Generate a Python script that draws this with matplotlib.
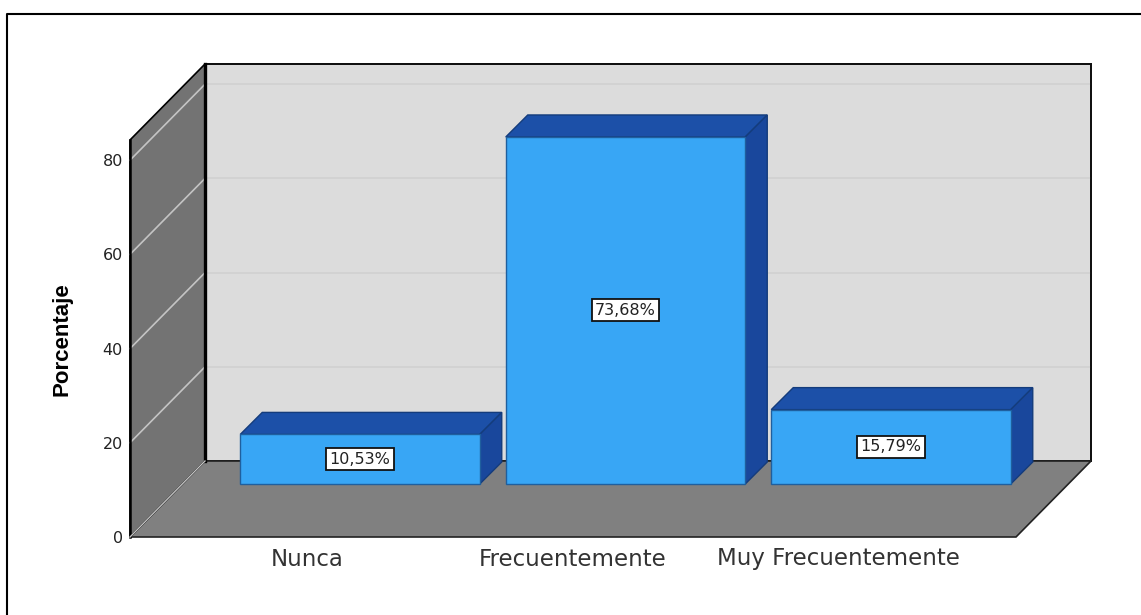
import matplotlib
matplotlib.use('Agg')
import matplotlib.pyplot as plt
from matplotlib.patches import Polygon

categories = ['Nunca', 'Frecuentemente', 'Muy Frecuentemente']
percent = [10.53, 73.68, 15.79]
bar_labels = ['10,53%', '73,68%', '15,79%']
y_ticks = [0, 20, 40, 60, 80]

W, H = 1141, 615
PX_X = 265.5   # pixels per category
PX_Y = 4.71    # pixels per percent
X0 = 360.0     # pixel of first category
Y0 = 537.0     # pixel of 0 percent


def dx(px):
    return px / PX_X


def dy(px):
    return px / PX_Y


fig = plt.figure(figsize=(W / 100, H / 100), dpi=100)
ax = fig.add_axes([0, 0, 1, 1])
ax.set_xlim(-X0 / PX_X, (W - X0) / PX_X)
ax.set_ylim(-(H - Y0) / PX_Y, Y0 / PX_Y)
ax.axis('off')

# chart box
left = dx(130 - X0)
right = dx(1016 - X0)
depth_x = dx(75)
depth_y = dy(76)
top = dy(397)

# outer frame, only left and top sides show
fx0, fx1 = dx(6.5 - X0), dx(W - X0)
fy0, fy1 = dy(Y0 - H), dy(Y0 - 13.5)
ax.plot([fx0, fx0, fx1], [fy0, fy1, fy1], color='black', lw=1.5, zorder=1)

# back wall
ax.add_patch(Polygon([(left + depth_x, depth_y), (right + depth_x, depth_y),
                      (right + depth_x, top + depth_y), (left + depth_x, top + depth_y)],
                     fc='#dcdcdc', ec='#111111', lw=1.4, zorder=2.6))
ax.add_patch(Polygon([(left + depth_x, depth_y), (right + depth_x, depth_y),
                      (right + depth_x, top + depth_y), (left + depth_x, top + depth_y)],
                     fc='none', ec='#111111', lw=1.4, zorder=2.8))
# floor
ax.add_patch(Polygon([(left, 0), (right, 0), (right + depth_x, depth_y), (left + depth_x, depth_y)],
                     fc='#808080', ec='#222222', lw=1.2, zorder=3))
# left wall
ax.add_patch(Polygon([(left, 0), (left + depth_x, depth_y),
                      (left + depth_x, top + depth_y), (left, top)],
                     fc='#737373', ec='black', lw=1.2, zorder=3))
ax.plot([left + depth_x] * 2, [depth_y, top + depth_y], color='black', lw=2.4, zorder=5)
ax.plot([left] * 2, [0, top], color='black', lw=1.8, zorder=5)
ax.plot([left, left + depth_x], [0, depth_y], color='#c4c4c4', lw=1, zorder=5)

# grid lines on back and left wall
for t in y_ticks[1:]:
    ax.plot([left + depth_x, right + depth_x], [t + depth_y] * 2, color='#d0d0d0', lw=1.2,
            solid_capstyle='butt', zorder=2.7)
    ax.plot([left, left + depth_x], [t, t + depth_y], color='#c4c4c4', lw=1.2, zorder=4)
for t in y_ticks:
    ax.text(left - dx(7), t - dy(1.5), str(t), ha='right', va='center', fontsize=11.5, color='#222222')

# bars
bar_w = dx(239.5)
bar_dx = dx(22)
bar_dy = dy(22)
off_y = dy(53)
for i, (v, lab) in enumerate(zip(percent, bar_labels)):
    x0 = i - bar_w / 2
    x1 = i + bar_w / 2
    y0 = off_y
    y1 = off_y + v
    ax.bar(i, v, width=bar_w, bottom=y0, color='#38a6f5', edgecolor='#1f5f9e', lw=1, zorder=7)
    ax.add_patch(Polygon([(x0, y1), (x1, y1), (x1 + bar_dx, y1 + bar_dy), (x0 + bar_dx, y1 + bar_dy)],
                         fc='#1c50a8', ec='#143c7c', lw=1, zorder=6))
    ax.add_patch(Polygon([(x1, y0), (x1 + bar_dx, y0 + bar_dy), (x1 + bar_dx, y1 + bar_dy), (x1, y1)],
                         fc='#19479c', ec='#143c7c', lw=1, zorder=6))
    ax.text(i, y0 + v / 2, lab, ha='center', va='center', fontsize=11.5, color='#222222', zorder=9,
            bbox=dict(boxstyle='square,pad=0.22', fc='white', ec='#111111', lw=1.3))
    ax.text(i - dx(53), -dy(22), categories[i], ha='center', va='center', fontsize=16.5, color='#333333')

ax.text(dx(62 - X0), dy(Y0 - 339.5), 'Porcentaje', rotation=90, ha='center', va='center',
        fontsize=16, fontweight='bold', color='black', family=['Liberation Sans', 'DejaVu Sans'])

fig.savefig('out.png', dpi=100)
